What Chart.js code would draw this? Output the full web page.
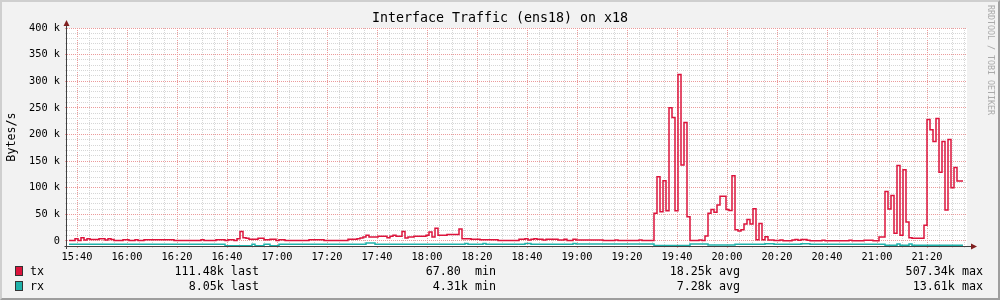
<!DOCTYPE html>
<html>
<head>
<meta charset="utf-8">
<script src="https://cdn.jsdelivr.net/npm/chart.js@4.4.1/dist/chart.umd.min.js"></script>
<style>
  html, body { margin: 0; padding: 0; background: #f2f2f2; }
  #wrap { position: relative; width: 1000px; height: 300px; overflow: hidden; font-family: 'DejaVu Sans Mono', monospace; }
  #chart { position: absolute; left: 0; top: 0; }
  .frame { position: absolute; left: 0; top: 0; width: 1000px; height: 300px; box-sizing: border-box;
           border-top: 2px solid #cfcfcf; border-left: 2px solid #cfcfcf;
           border-right: 2px solid #9e9e9e; border-bottom: 2px solid #9e9e9e; pointer-events: none; }
  #title { position: absolute; left: 0; top: 10px; width: 1000px; text-align: center; font-size: 13.3px; line-height: 16px; color: #000; }
  #mark { position: absolute; left: 986px; top: 5px; writing-mode: vertical-rl; font-size: 8.3px; line-height: 10px; color: #aaa; }
  .row { position: absolute; left: 0; width: 1000px; height: 14px; font-size: 11.7px; line-height: 14px; color: #000; }
  .row span { position: absolute; top: 0; white-space: pre; }
  .sw { position: absolute; left: 15px; top: 2px; width: 8px; height: 10px; box-sizing: border-box; border: 1px solid #333; }
</style>
</head>
<body>
<div id="wrap">
  <canvas id="chart" width="1000" height="300"></canvas>
  <div id="title"></div>
  <div id="mark">RRDTOOL / TOBI OETIKER</div>
  <div id="legend"></div>
  <div class="frame"></div>
</div>
<script>
const chartTitle = "Interface Traffic (ens18) on x18";
const yTitle = "Bytes/s";

const xTickLabels = ['15:40','16:00','16:20','16:40','17:00','17:20','17:40','18:00','18:20',
                     '18:40','19:00','19:20','19:40','20:00','20:20','20:40','21:00','21:20'];
const yTickLabels = ['0','50 k','100 k','150 k','200 k','250 k','300 k','350 k','400 k'];

// tx, k bytes/s, one value per 1.2 min step
const txK = [
  1,1,1,4.4,1,6,2,4,3,3,3,4,4,2,4,3,1,1,1,2.5,
  2.5,1,1,2.5,1,1,2.5,2.5,2.5,2.5,2.5,2.5,2.5,2.5,2.5,2.5,1,1,1,1,
  1,1,1,1,1,2.5,1,1,1,1,2.5,2.5,2.5,1,2.5,2.5,1,4,18,6,
  5,3.2,3.2,3.2,5,5,2.5,2.5,3.2,3.2,1,2.5,2.5,1,1,1,1,1,1,1,
  1,2.5,2.5,2.5,2.5,2.5,1,1,1,1,1,1,1,1,3.2,3.2,3.2,4.4,5.6,7.5,
  10.6,7.5,7.5,7.5,8.8,8.8,8.8,6.2,8.8,10.6,8.8,8.8,18,5.6,7.5,7.5,8.8,8.8,8.8,8.8,
  10.6,17,7.5,24,10.6,10.6,10.6,12,12,12,12,22.5,4.4,4.4,4.4,3.2,3.2,3.2,2.5,2.5,
  2.5,2.5,2.5,2.5,1,1,1,1,1,1,1,3.2,3.2,4.4,2,3.2,4.4,3.2,3.2,2,
  3.2,3.2,3.2,3.2,2,2,3.2,1,1,3.2,2,2,2,2,2,2,2,2,2,1,
  1,1,1,2,1,1,1,1,1,1,1,2,1,1,1,1,52,120.6,55,113,
  57,250,232,57,312.5,142.5,222.5,45.6,1,1,1,2,1,9.4,52,59,54,67.5,83.8,83.8,
  59,57.5,122.5,21.3,18.8,21.3,31.9,40.6,31.9,60.6,2.5,33,2.5,8,2,2,1,1,2,0.5,
  0.5,0.5,2,3,1.5,3,3,1.5,0.5,0.5,0.5,0.5,1.5,0.5,0.5,0.5,0.5,0.5,0.5,0.5,
  0.5,1.5,0.5,0.5,0.5,0.5,1.5,1.5,1.5,0.5,0.5,7.5,7.5,93,60,85.6,14.4,142,10.6,133.7,
  35.6,6.2,5,5,5,5,29.4,228,209,187,230,129,187,58,190.6,100,138,112.5
];

// rx, k bytes/s, drawn below zero
const rxK = [
  6,6,6,6,6,6,6,6,6,6,6,6,6,6,6,6,6,6,6,6,
  6,6,6,6,6,6,6,6,6,6,6,6,6,6,6,6,6,6,6,6,
  6,6,6,6,6,6,6,6,6,6,6,6,6,9,9,9,9,9,9,9,
  9,9,6,9,9,9,6,6,9,9,9,6,6,6,6,6,6,6,6,6,
  6,6,6,6,6,6,6,6,6,6,6,6,6,6,6,6,6,6,6,6,
  4,4,4,6,6,6,6,6,6,6,6,6,6,6,6,6,6,6,6,6,
  6,6,6,6,6,6,6,6,6,6,6,6,6,4.5,6,6,6,6,6,4.5,
  6,6,6,6,6,6,6,6,6,6,6,6,6,4.5,4.5,6,6,6,6,6,
  6,6,6,6,6,6,6,6,6,4.5,5.5,5.5,5.5,5.5,5.5,5.5,5.5,5.5,5.5,5.5,
  5.5,5.5,5.5,5.5,5.5,5.5,5.5,5.5,5.5,5.5,5.5,5.5,5.5,5.5,5.5,5.5,8.5,8.5,8.5,8.5,
  8.5,8.5,8.5,8.5,8.5,8.5,8.5,8.5,5.5,5.5,5.5,5.5,5.5,5.5,7.5,7.5,7.5,7.5,7.5,7.5,
  7.5,7.5,7.5,6,6,6,6,6,6,6,6,6,6,5,5,5,6,6,6,6,
  6,6,6,6,6,5,5,5,6,6,6,6,6,6,6,6,6,6,6,6,
  6,6,6,6,6,6,6,6,6,6,6,6,6,8,8,8,8,5.5,8,8,
  8,5.5,8,8,8,8,8,8,8,8,8,8,8,8,8,8,8,8
];

const seriesNames = ['tx', 'rx'];
const seriesColors = ['#dc143c', '#20b2aa'];
const lastVals = ['111.48k', '8.05k'];
const minVals = ['67.80 ', '4.31k'];
const avgVals = ['18.25k', '7.28k'];
const maxVals = ['507.34k', '13.61k'];

function toMin(s) {
    const [h, m] = s.split(':').map(Number);
    return h * 60 + m;
}

const xMin = toMin('15:36');
const xMax = toMin('21:36');
const firstSample = xMin + 0.8;
const sampleMinutes = 1.2;

function toPoints(vals, sign) {
    const pts = vals.map((v, i) => ({ x: firstSample + i * sampleMinutes, y: sign * v }));
    pts.push({ x: firstSample + vals.length * sampleMinutes, y: sign * vals[vals.length - 1] });
    return pts;
}

document.getElementById('title').textContent = chartTitle;

const legend = document.getElementById('legend');
seriesNames.forEach((name, i) => {
    const row = document.createElement('div');
    row.className = 'row';
    row.style.top = (264 + i * 15) + 'px';
    const sw = document.createElement('div');
    sw.className = 'sw';
    sw.style.background = seriesColors[i];
    row.appendChild(sw);
    const cols = [
        [name, null, 30],
        [lastVals[i] + ' last', 259],
        [minVals[i] + ' min', 496],
        [avgVals[i] + ' avg', 740],
        [maxVals[i] + ' max', 983]
    ];
    cols.forEach(c => {
        const s = document.createElement('span');
        s.textContent = c[0];
        if (c[1] === null) s.style.left = c[2] + 'px';
        else s.style.right = (1000 - c[1]) + 'px';
        row.appendChild(s);
    });
    legend.appendChild(row);
});

const MAJOR = '#eb9a9a';
const MINOR = '#d6d6d6';
const AXIS = '#404040';

// grid colour per tick value: majors every 20 min / 50 k
function gridColor(every) {
    return function (c) {
        const t = c.tick;
        if (t && Math.round(t.value) % every === 0) return MAJOR;
        return MINOR;
    };
}

const axesPlugin = {
    id: 'rrdAxes',
    beforeDraw(chart) {
        const { ctx, chartArea: a } = chart;
        ctx.save();
        ctx.fillStyle = '#ffffff';
        ctx.fillRect(a.left, a.top, a.right - a.left, a.bottom - a.top);
        ctx.restore();
    },
    afterDraw(chart) {
        const { ctx, chartArea: a } = chart;
        const x0 = a.left - 0.5, y0 = a.bottom + 0.5;
        ctx.save();
        ctx.strokeStyle = AXIS;
        ctx.lineWidth = 1;
        ctx.beginPath();
        ctx.moveTo(x0, a.bottom + 3);
        ctx.lineTo(x0, a.top - 3);
        ctx.moveTo(x0 - 2, y0);
        ctx.lineTo(a.right + 5, y0);
        ctx.stroke();
        ctx.fillStyle = '#801f1f';
        ctx.beginPath();
        ctx.moveTo(x0, a.top - 8);
        ctx.lineTo(x0 - 3, a.top - 2);
        ctx.lineTo(x0 + 3, a.top - 2);
        ctx.closePath();
        ctx.fill();
        ctx.beginPath();
        ctx.moveTo(a.right + 10, y0);
        ctx.lineTo(a.right + 4, y0 - 3);
        ctx.lineTo(a.right + 4, y0 + 3);
        ctx.closePath();
        ctx.fill();
        ctx.restore();
    }
};

const tickFont = { family: 'DejaVu Sans Mono', size: 10.3 };

new Chart(document.getElementById('chart'), {
    type: 'line',
    data: {
        datasets: [
            { label: 'tx', data: toPoints(txK, 1), borderColor: seriesColors[0], borderWidth: 1.5,
              stepped: 'after', pointRadius: 0, fill: false },
            { label: 'rx', data: toPoints(rxK, -1), borderColor: seriesColors[1], borderWidth: 1.5,
              stepped: 'after', pointRadius: 0, fill: false }
        ]
    },
    options: {
        responsive: false,
        animation: false,
        devicePixelRatio: 1,
        layout: { padding: { left: 0, top: 28, right: 33, bottom: 40 } },
        plugins: { legend: { display: false }, tooltip: { enabled: false }, title: { display: false } },
        scales: {
            x: {
                type: 'linear',
                min: xMin,
                max: xMax,
                afterBuildTicks: scale => {
                    const t = [];
                    for (let m = toMin(xTickLabels[0]); m < xMax; m += 5) t.push({ value: m });
                    scale.ticks = t;
                },
                afterFit: scale => { scale.height = 14; },
                ticks: {
                    autoSkip: false,
                    maxRotation: 0,
                    padding: 3,
                    color: '#000',
                    font: tickFont,
                    callback: v => xTickLabels.find(s => toMin(s) === v) || ''
                },
                grid: {
                    color: gridColor(20),
                    tickColor: gridColor(20),
                    lineWidth: 1,
                    drawTicks: true,
                    tickLength: 2
                },
                border: { display: false, dash: [1, 1] }
            },
            y: {
                type: 'linear',
                min: -9.4,
                max: 400,
                afterBuildTicks: scale => {
                    const t = [];
                    for (let v = 0; v <= 400; v += 10) t.push({ value: v });
                    scale.ticks = t;
                },
                afterFit: scale => { scale.width = 67; },
                ticks: {
                    autoSkip: false,
                    padding: 5,
                    color: '#000',
                    font: tickFont,
                    callback: v => v % 50 === 0 ? yTickLabels[v / 50] : ''
                },
                grid: {
                    color: gridColor(50),
                    tickColor: gridColor(50),
                    lineWidth: 1,
                    drawTicks: true,
                    tickLength: 2
                },
                border: { display: false, dash: [1, 1] },
                title: {
                    display: true,
                    text: yTitle,
                    color: '#000',
                    font: { family: 'DejaVu Sans Mono', size: 11.7 },
                    padding: { top: 5, bottom: 0 }
                }
            }
        }
    },
    plugins: [axesPlugin]
});
</script>
</body>
</html>
